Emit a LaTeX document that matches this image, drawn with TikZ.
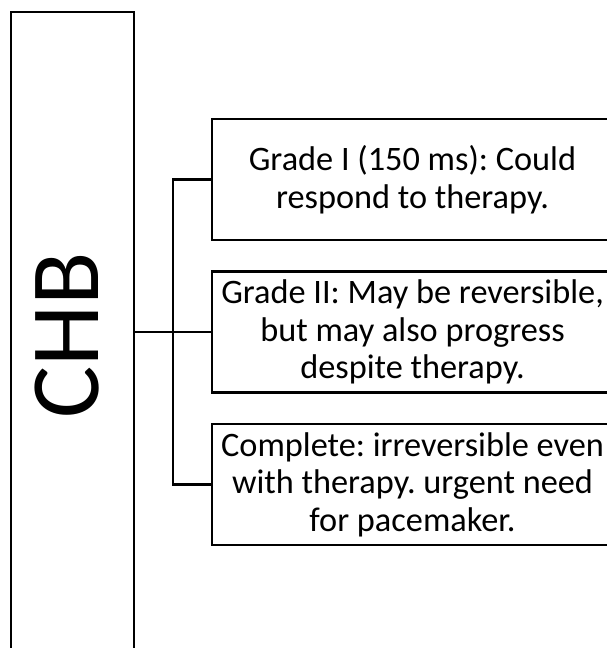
\documentclass[tikz,border=0pt]{standalone}
\usepackage{fontspec}
\setmainfont{Carlito}
\frenchspacing
\begin{document}
\begin{tikzpicture}[x=1pt,y=-1pt,
  line/.style={line width=2.7pt,line cap=rect},
  gradebox/.style={draw,line width=2.7pt,minimum width=401pt,minimum height=121pt,
    align=center,inner sep=0pt,font=\fontsize{34.3}{37.5}\selectfont},
  ]
\useasboundingbox (0,0) rectangle (607,648);
\clip (0,0) rectangle (607,648);
\fill[white] (0,0) rectangle (607,648);
\node[draw,line width=2.7pt,minimum width=123pt,minimum height=642pt,inner sep=0pt] (chb) at (72.5,333) {};
\node[rotate=90,inner sep=0pt,font=\fontsize{98}{98}\selectfont] (chbtext) at (67.5,335) {\frenchspacing CHB};
\node[gradebox] (g1) at (412.5,179.5) {\frenchspacing Grade I (150 ms): Could\\respond to therapy.};
\node[gradebox] (g2) at (412.5,332) {\frenchspacing Grade II: May be reversible,\\but may also progress\\despite therapy.};
\node[gradebox] (g3) at (412.5,484.5) {\frenchspacing Complete: irreversible even\\with therapy. urgent need\\for pacemaker.};
\coordinate (j1) at (173,179.5);
\coordinate (j3) at (173,484.5);
\draw[line] (chb.east |- g2.west) -- (g2.west);
\draw[line] (g1.west) -- (j1) -- (j3) -- (g3.west);
\end{tikzpicture}
\end{document}
